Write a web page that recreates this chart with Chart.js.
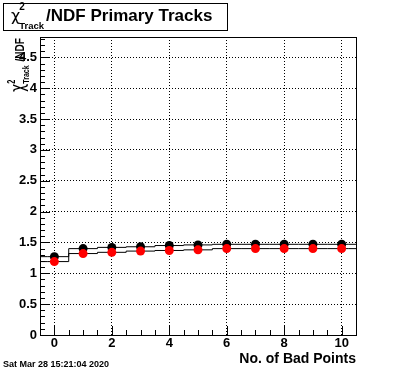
<!DOCTYPE html>
<html>
<head>
<meta charset="utf-8">
<script src="https://cdn.jsdelivr.net/npm/chart.js@4/dist/chart.umd.min.js"></script>
<style>
  html, body { margin: 0; padding: 0; background: #fff; }
  #wrap { width: 396px; height: 372px; }
</style>
</head>
<body>
<div id="wrap"><canvas id="c"></canvas></div>
<script>
// values
const badPoints = [0, 1, 2, 3, 4, 5, 6, 7, 8, 9, 10]
const chi2Black = [1.27, 1.40, 1.42, 1.43, 1.45, 1.46, 1.47, 1.47, 1.47, 1.47, 1.47]
const chi2Red = [1.19, 1.32, 1.34, 1.36, 1.37, 1.38, 1.40, 1.40, 1.40, 1.40, 1.40]
const xTicks = [0, 2, 4, 6, 8, 10]
const yTicks = [0, 0.5, 1, 1.5, 2, 2.5, 3, 3.5, 4, 4.5]
const xRange = [-0.5, 10.5]
const yRange = [0, 4.83]

const FONT = '"Liberation Sans", Arial, sans-serif'

function points(vals) {
    return badPoints.map((b, i) => ({ x: b, y: vals[i] }))
}

// histogram-like step line spanning the full bin edges
function steps(vals) {
    const p = points(vals)
    return [{ x: xRange[0], y: vals[0] }, ...p, { x: xRange[1], y: vals[vals.length - 1] }]
}

// chi^2_Track followed by some text, drawn at baseline (x, y)
function drawChi(ctx, x, y, s, rest) {
    ctx.textAlign = 'left'
    ctx.textBaseline = 'alphabetic'
    ctx.font = s.chi + 'px "DejaVu Sans"'
    ctx.fillText('χ', x, y)
    x += ctx.measureText('χ').width + s.gap
    ctx.font = 'bold ' + s.sup + 'px ' + FONT
    ctx.fillText('2', x, y - s.supShift)
    ctx.font = 'bold ' + s.sub + 'px ' + FONT
    ctx.fillText('Track', x, y + s.subShift)
    x += ctx.measureText('Track').width + s.gap2
    ctx.font = 'bold ' + s.main + 'px ' + FONT
    ctx.fillText(rest, x, y)
}

function chiWidth(ctx, s, rest) {
    ctx.font = s.chi + 'px "DejaVu Sans"'
    let w = ctx.measureText('χ').width + s.gap
    ctx.font = 'bold ' + s.sub + 'px ' + FONT
    w += ctx.measureText('Track').width + s.gap2
    ctx.font = 'bold ' + s.main + 'px ' + FONT
    return w + ctx.measureText(rest).width
}

const rootStyle = {
    id: 'rootStyle',
    afterDraw(chart) {
        const { ctx, chartArea: a, scales: { x, y } } = chart
        ctx.save()
        ctx.strokeStyle = '#000'
        ctx.fillStyle = '#000'
        ctx.lineWidth = 1

        // frame
        ctx.strokeRect(a.left + 0.5, a.top + 0.5, a.right - a.left, a.bottom - a.top)

        // ticks pointing inward (ROOT style)
        ctx.beginPath()
        for (let k = 0; k * 0.1 <= yRange[1]; k++) {
            const v = k * 0.1
            const py = Math.round(y.getPixelForValue(v)) + 0.5
            const len = k % 5 === 0 ? 10 : 5
            ctx.moveTo(a.left, py)
            ctx.lineTo(a.left + len, py)
        }
        for (let k = 0; k * 0.5 <= xRange[1]; k++) {
            const v = k * 0.5
            const px = Math.round(x.getPixelForValue(v)) + 0.5
            const len = k % 4 === 0 ? 9 : 5
            ctx.moveTo(px, a.bottom)
            ctx.lineTo(px, a.bottom - len)
        }
        ctx.stroke()

        // title box
        ctx.strokeRect(3.5, 3.5, 224, 27)
        drawChi(ctx, 11, 21, { chi: 16, sup: 10, sub: 9.5, main: 17, gap: -1, gap2: 2, supShift: 11, subShift: 8 }, '/NDF Primary Tracks')

        // y axis title, rotated and squeezed, ending at the top of the frame
        const ys = { chi: 19, sup: 10, sub: 9.5, main: 13.5, gap: 0, gap2: 5, supShift: 9, subShift: 5 }
        const L = chiWidth(ctx, ys, '/NDF')
        const len = 54
        ctx.save()
        ctx.translate(24, a.top + 1 + len)
        ctx.rotate(-Math.PI / 2)
        ctx.scale(len / L, 1)
        drawChi(ctx, 0, 0, ys, '/NDF')
        ctx.restore()

        // x axis title
        ctx.font = 'bold 14px ' + FONT
        ctx.textAlign = 'right'
        ctx.fillText('No. of Bad Points', a.right, 363)

        // date stamp
        ctx.font = 'bold 9px ' + FONT
        ctx.textAlign = 'left'
        ctx.fillText('Sat Mar 28 15:21:04 2020', 3, 367)
        ctx.restore()
    }
}

const chart = new Chart(document.getElementById('c'), {
    type: 'scatter',
    plugins: [rootStyle],
    data: {
        datasets: [
            { label: 'red', data: points(chi2Red), backgroundColor: '#ff0000', borderWidth: 0, pointRadius: 4.5, order: 0 },
            { label: 'black', data: points(chi2Black), backgroundColor: '#000000', borderWidth: 0, pointRadius: 4.5, order: 1 },
            { label: 'red steps', data: steps(chi2Red), showLine: true, stepped: 'middle', borderColor: '#000', borderWidth: 1, pointRadius: 0, order: 2 },
            { label: 'black steps', data: steps(chi2Black), showLine: true, stepped: 'middle', borderColor: '#000', borderWidth: 1, pointRadius: 0, order: 3 }
        ]
    },
    options: {
        responsive: true,
        maintainAspectRatio: false,
        devicePixelRatio: 1,
        animation: false,
        layout: { padding: { top: 37, right: 40, left: 0, bottom: 0 } },
        plugins: { legend: { display: false }, tooltip: { enabled: false } },
        scales: {
            x: {
                type: 'linear',
                min: xRange[0],
                max: xRange[1],
                afterBuildTicks: s => { s.ticks = xTicks.map(v => ({ value: v })) },
                afterFit: s => { s.height = 37 },
                ticks: {
                    color: '#000',
                    padding: 1,
                    maxRotation: 0,
                    font: { family: FONT, size: 13, weight: 'bold' },
                    callback: v => String(v)
                },
                grid: { color: '#000', lineWidth: 1, drawTicks: false },
                border: { display: false, dash: [1, 2] }
            },
            y: {
                type: 'linear',
                min: yRange[0],
                max: yRange[1],
                afterBuildTicks: s => { s.ticks = yTicks.map(v => ({ value: v })) },
                afterFit: s => { s.width = 40 },
                ticks: {
                    color: '#000',
                    padding: 3,
                    font: { family: FONT, size: 13, weight: 'bold' },
                    callback: v => String(v)
                },
                grid: { color: '#000', lineWidth: 1, drawTicks: false },
                border: { display: false, dash: [1, 2] }
            }
        }
    }
})
</script>
</body>
</html>
